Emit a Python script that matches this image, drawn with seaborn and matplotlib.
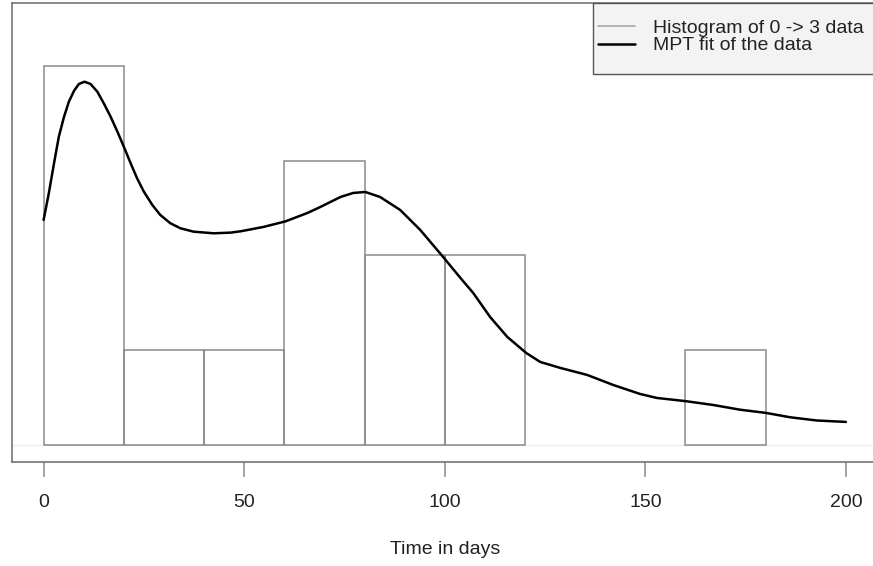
import numpy as np
import pandas as pd
import matplotlib
matplotlib.use("Agg")
import matplotlib.pyplot as plt
import seaborn as sns
from matplotlib.lines import Line2D
from matplotlib.patches import Rectangle

# Histogram data (bin edges and counts)
bin_edges = [0, 20, 40, 60, 80, 100, 120, 140, 160, 180]
bin_counts = [4, 1, 1, 3, 2, 2, 0, 0, 1]

# MPT fit curve (days, same units as counts)
fit_days = [0, 1.3, 2.6, 3.8, 5.1, 6.3, 7.6, 8.8, 10.2, 11.7, 13.4, 15.0,
            16.7, 18.4, 20.0, 21.7, 23.3, 25.0, 27.1, 29.1, 31.6, 34.1, 37.4,
            42.4, 46.6, 49.1, 54.8, 60.3, 65.8, 69.0, 74.0, 77.2, 80.2, 83.9,
            88.9, 93.9, 99.6, 103.9, 107.1, 111.3, 115.6, 120.3, 123.8, 128.8,
            135.5, 142.0, 148.7, 152.9, 160.1, 166.9, 173.6, 180.1, 186.1,
            192.8, 200.0]
fit_vals = [2.375, 2.656, 2.973, 3.254, 3.465, 3.623, 3.739, 3.810, 3.834,
            3.810, 3.729, 3.606, 3.465, 3.307, 3.148, 2.973, 2.815, 2.673,
            2.533, 2.427, 2.340, 2.287, 2.251, 2.234, 2.241, 2.255, 2.301,
            2.360, 2.449, 2.512, 2.617, 2.660, 2.670, 2.617, 2.480, 2.269,
            1.984, 1.763, 1.604, 1.351, 1.140, 0.971, 0.876, 0.813, 0.739,
            0.633, 0.538, 0.496, 0.462, 0.422, 0.372, 0.338, 0.292, 0.258,
            0.243]

xticks = [0, 50, 100, 150, 200]
xlabel = "Time in days"
legend_labels = ["Histogram of 0 -> 3 data", "MPT fit of the data"]

sns.set_theme(style="white")
plt.rcParams['font.family'] = ['Liberation Sans', 'DejaVu Sans']

W, H = 873, 566
fig = plt.figure(figsize=(W / 100, H / 100), dpi=100)
ax = fig.add_axes([11.5 / W, 1 - 462 / H, 866.5 / W, (462 - 2.5) / H])

hist_df = pd.DataFrame({
    "center": [bin_edges[i] + (bin_edges[i + 1] - bin_edges[i]) / 2
               for i in range(len(bin_counts))],
    "count": bin_counts,
})
sns.histplot(data=hist_df, x="center", weights="count", bins=bin_edges,
             fill=False, color="#8a8a8a", edgecolor="#8a8a8a",
             linewidth=1.1, ax=ax)
for p in ax.patches:
    if p.get_height() == 0:
        p.set_visible(False)

ax.axhline(0, color="#ececec", linewidth=1.0, zorder=0)

fit_df = pd.DataFrame({"day": fit_days, "val": fit_vals})
sns.lineplot(data=fit_df, x="day", y="val", sort=False, estimator=None,
             color="black", linewidth=1.8, ax=ax)

ax.set_xlim(-8, 208)
ax.set_ylim(-0.18, 4.67)
ax.set_xticks(xticks)
ax.set_xticklabels([str(t) for t in xticks], fontsize=14, color="#222222")
ax.set_yticks([])
ax.set_ylabel("")
ax.set_xlabel(xlabel, fontsize=14, color="#222222", labelpad=22)
ax.tick_params(axis="x", direction="out", length=11, width=1.1,
               color="#8a8a8a", pad=12, bottom=True)

for side, sp in ax.spines.items():
    sp.set_color("#6a6a6a")
    sp.set_linewidth(1.1)

# legend box
box = Rectangle((593 / W, 1 - 74 / H), (890 - 593) / W, (74 - 2.5) / H,
                transform=fig.transFigure, facecolor="#f3f3f3",
                edgecolor="#555555", linewidth=1.0, zorder=4)
fig.add_artist(box)

handles = [Line2D([0], [0], color="#a0a0a0", linewidth=1.1),
           Line2D([0], [0], color="black", linewidth=1.8)]
leg = fig.legend(handles, legend_labels, loc="upper left",
                 bbox_to_anchor=(598 / W, 1 - 19.5 / H),
                 bbox_transform=fig.transFigure, borderaxespad=0,
                 borderpad=0, fontsize=14, frameon=False,
                 handlelength=1.9, handletextpad=0.95, labelspacing=-0.02)
leg.set_zorder(5)
for t in leg.get_texts():
    t.set_color("#222222")

fig.savefig("out.png", dpi=100)
